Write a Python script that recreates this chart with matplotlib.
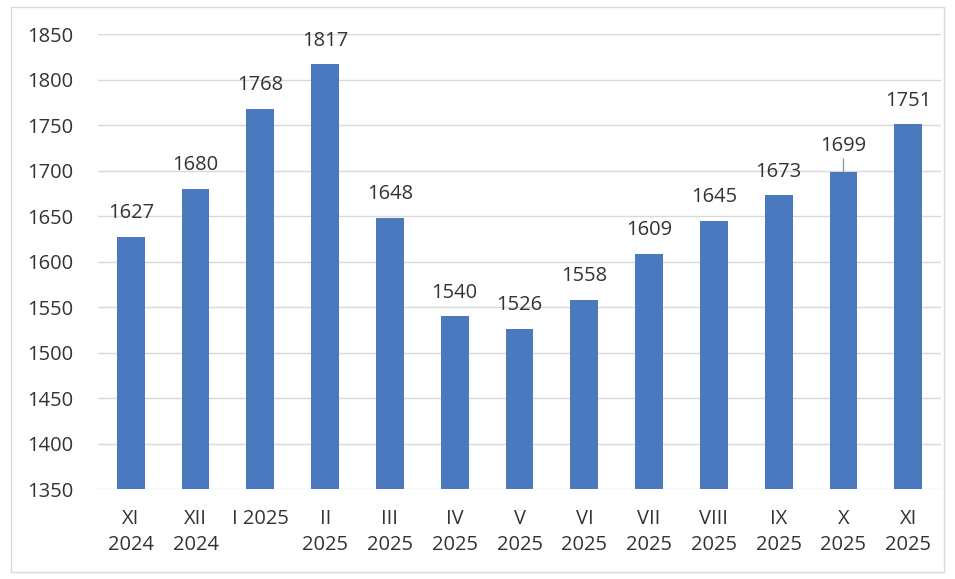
import matplotlib.pyplot as plt
from matplotlib.patches import Rectangle

months = ['XI\n2024', 'XII\n2024', 'I 2025', 'II\n2025', 'III\n2025', 'IV\n2025',
          'V\n2025', 'VI\n2025', 'VII\n2025', 'VIII\n2025', 'IX\n2025', 'X\n2025', 'XI\n2025']
values = [1627, 1680, 1768, 1817, 1648, 1540, 1526, 1558, 1609, 1645, 1673, 1699, 1751]
y_ticks = [1350, 1400, 1450, 1500, 1550, 1600, 1650, 1700, 1750, 1800, 1850]

plt.rcParams['font.family'] = ['Open Sans', 'DejaVu Sans']

fig = plt.figure(figsize=(9.55, 5.79), dpi=100)
ax = fig.add_axes([0.103, 0.155, 0.882, 0.786])

x = list(range(len(values)))
ax.bar(x, [v - 1350 for v in values], bottom=1350, width=0.43, color='#4a79bf', zorder=2)

for i, v in enumerate(values):
    if i == 11:
        ax.annotate(str(v), xy=(i, v), xytext=(i, v + 17), ha='center', va='bottom',
                    fontsize=14.5, color='#333333',
                    arrowprops=dict(arrowstyle='-', color='#999999', lw=1, shrinkA=0, shrinkB=0))
    else:
        ax.text(i, v + 15, str(v), ha='center', va='bottom', fontsize=14.5, color='#333333')

ax.set_xlim(-0.5, len(values) - 0.5)
ax.set_ylim(1350, 1850)
ax.set_yticks(y_ticks)
ax.set_xticks(x)
ax.set_xticklabels(months, fontsize=14.5, color='#333333', linespacing=1.45)
ax.tick_params(axis='y', labelsize=14.5, labelcolor='#333333', length=0, pad=18)
ax.tick_params(axis='x', length=0, pad=14)
ax.grid(axis='y', color='#d9d9d9', lw=1, zorder=0)
for s in ax.spines.values():
    s.set_visible(False)

fig.patches.append(Rectangle((0.012, 0.012), 0.976, 0.976, transform=fig.transFigure,
                             fill=False, edgecolor='#d9d9d9', lw=1))

fig.savefig('out.png', dpi=100)
